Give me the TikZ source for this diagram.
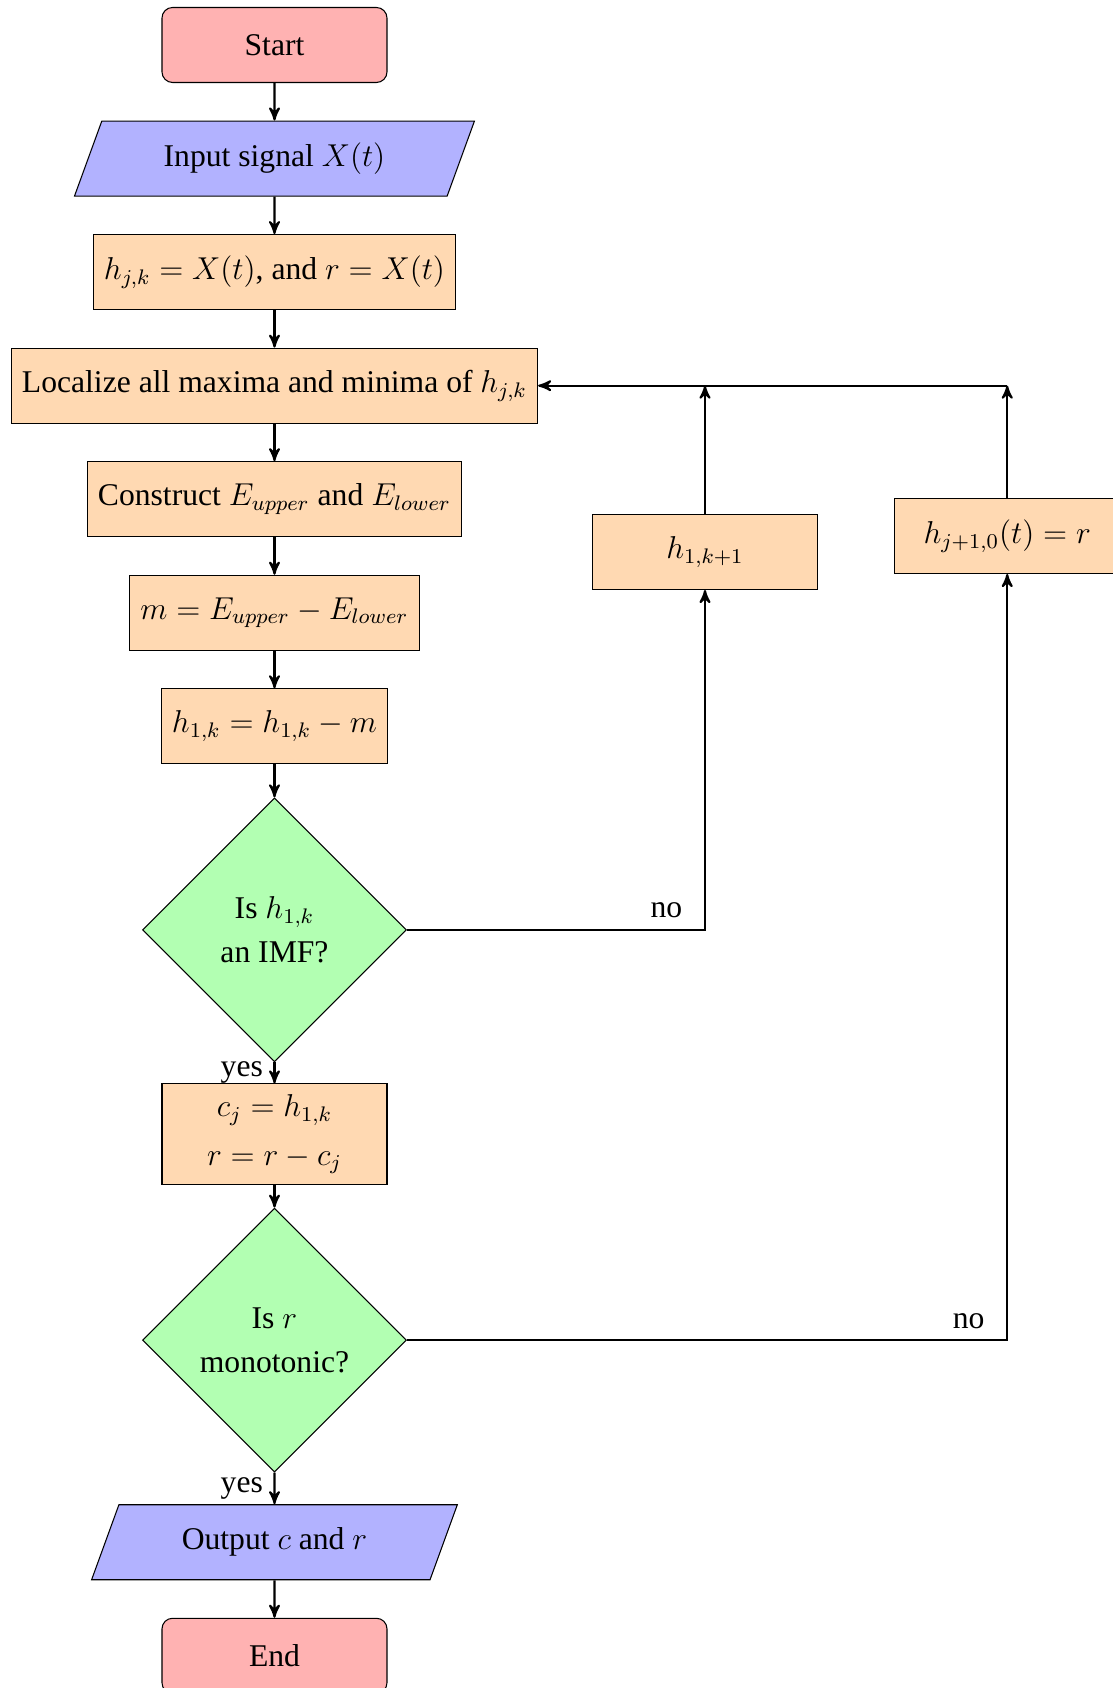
\documentclass[tikz,border=0pt,12pt]{standalone}
\usepackage[no-math]{fontspec}
\setmainfont{Liberation Serif}
\usepackage{amsmath}
\usepackage{tikz}
\usetikzlibrary{arrows,positioning,shapes.geometric}
\tikzset{
  fc_node/.style = {align=center, text centered, draw=black, thin,
    minimum width=3cm, minimum height=1cm},
  fc_term/.style = {fc_node, rectangle, rounded corners, fill=red!30},% start / end
  fc_io/.style = {fc_node, trapezium, trapezium left angle=70,
    trapezium right angle=110, fill=blue!30},% input / output
  fc_proc/.style = {fc_node, rectangle, fill=orange!30},% process step
  fc_dec/.style = {fc_node, diamond, inner sep=0pt, fill=green!30,
    minimum width=3.52cm, minimum height=3.52cm}% decision
}

\begin{document}
\begin{tikzpicture}[->,>=stealth',thick,node distance=0.5cm]
    \useasboundingbox (-3.66,0.6) rectangle (11.167,-21.907);
    \node [fc_term] (start) {Start};
    \node [fc_io, below=of start] (input) {Input signal $X(t)$};
    \node [fc_proc, below=of input] (init) {$h_{j,k}=X(t)$, and $r=X(t)$};
    \node [fc_proc, below=of init] (extrema) {Localize all maxima and minima of $h_{j,k}$};
    \node [fc_proc, below=of extrema] (envel) {Construct $E_{upper}$ and $E_{lower}$};
    \node [fc_proc, below=of envel] (mean) {$m=E_{upper}-E_{lower}$};
    \node [fc_proc, below=of mean] (sift) {$h_{1,k}=h_{1,k}-m$};
    \node [fc_dec, below=0.44cm of sift] (isimf) {Is $h_{1,k}$\\[2pt] an IMF?};
    \node [fc_proc, below=0.28cm of isimf] (resid) {$c_j=h_{1,k}$\\[4pt] $r=r-c_j$};
    \node [fc_dec, below=0.3cm of resid] (ismono) {Is $r$\\[2pt] monotonic?};
    \node [fc_io, below=0.42cm of ismono] (output) {Output $c$ and $r$};
    \node [fc_term, below=of output] (stop) {End};
    \node [fc_proc] (nextk) at (5.74,-6.76) {$h_{1,k+1}$};
    \node [fc_proc] (nextj) at (9.77,-6.547) {$h_{j+1,0}(t)=r$};
    \coordinate (loopk) at (nextk |- extrema.east);
    \coordinate (loopj) at (nextj |- extrema.east);

    \draw (start) -- (input);
    \draw (input) -- (init);
    \draw (init) -- (extrema);
    \draw (extrema) -- (envel);
    \draw (envel) -- (mean);
    \draw (mean) -- (sift);
    \draw (sift) -- (isimf);
    \draw (isimf) -- node[left] {yes} (resid);
    \draw (isimf) -| node[above left, xshift=-0.15cm] {no} (nextk);
    \draw (resid) -- (ismono);
    \draw (ismono) -- node[left] {yes} (output);
    \draw (ismono) -| node[above left, xshift=-0.15cm] {no} (nextj);
    \draw (output) -- (stop);
    \draw (nextk) -- (loopk);
    \draw (nextj) -- (loopj);
    \draw (loopj) -- (extrema);
\end{tikzpicture}
\end{document}
